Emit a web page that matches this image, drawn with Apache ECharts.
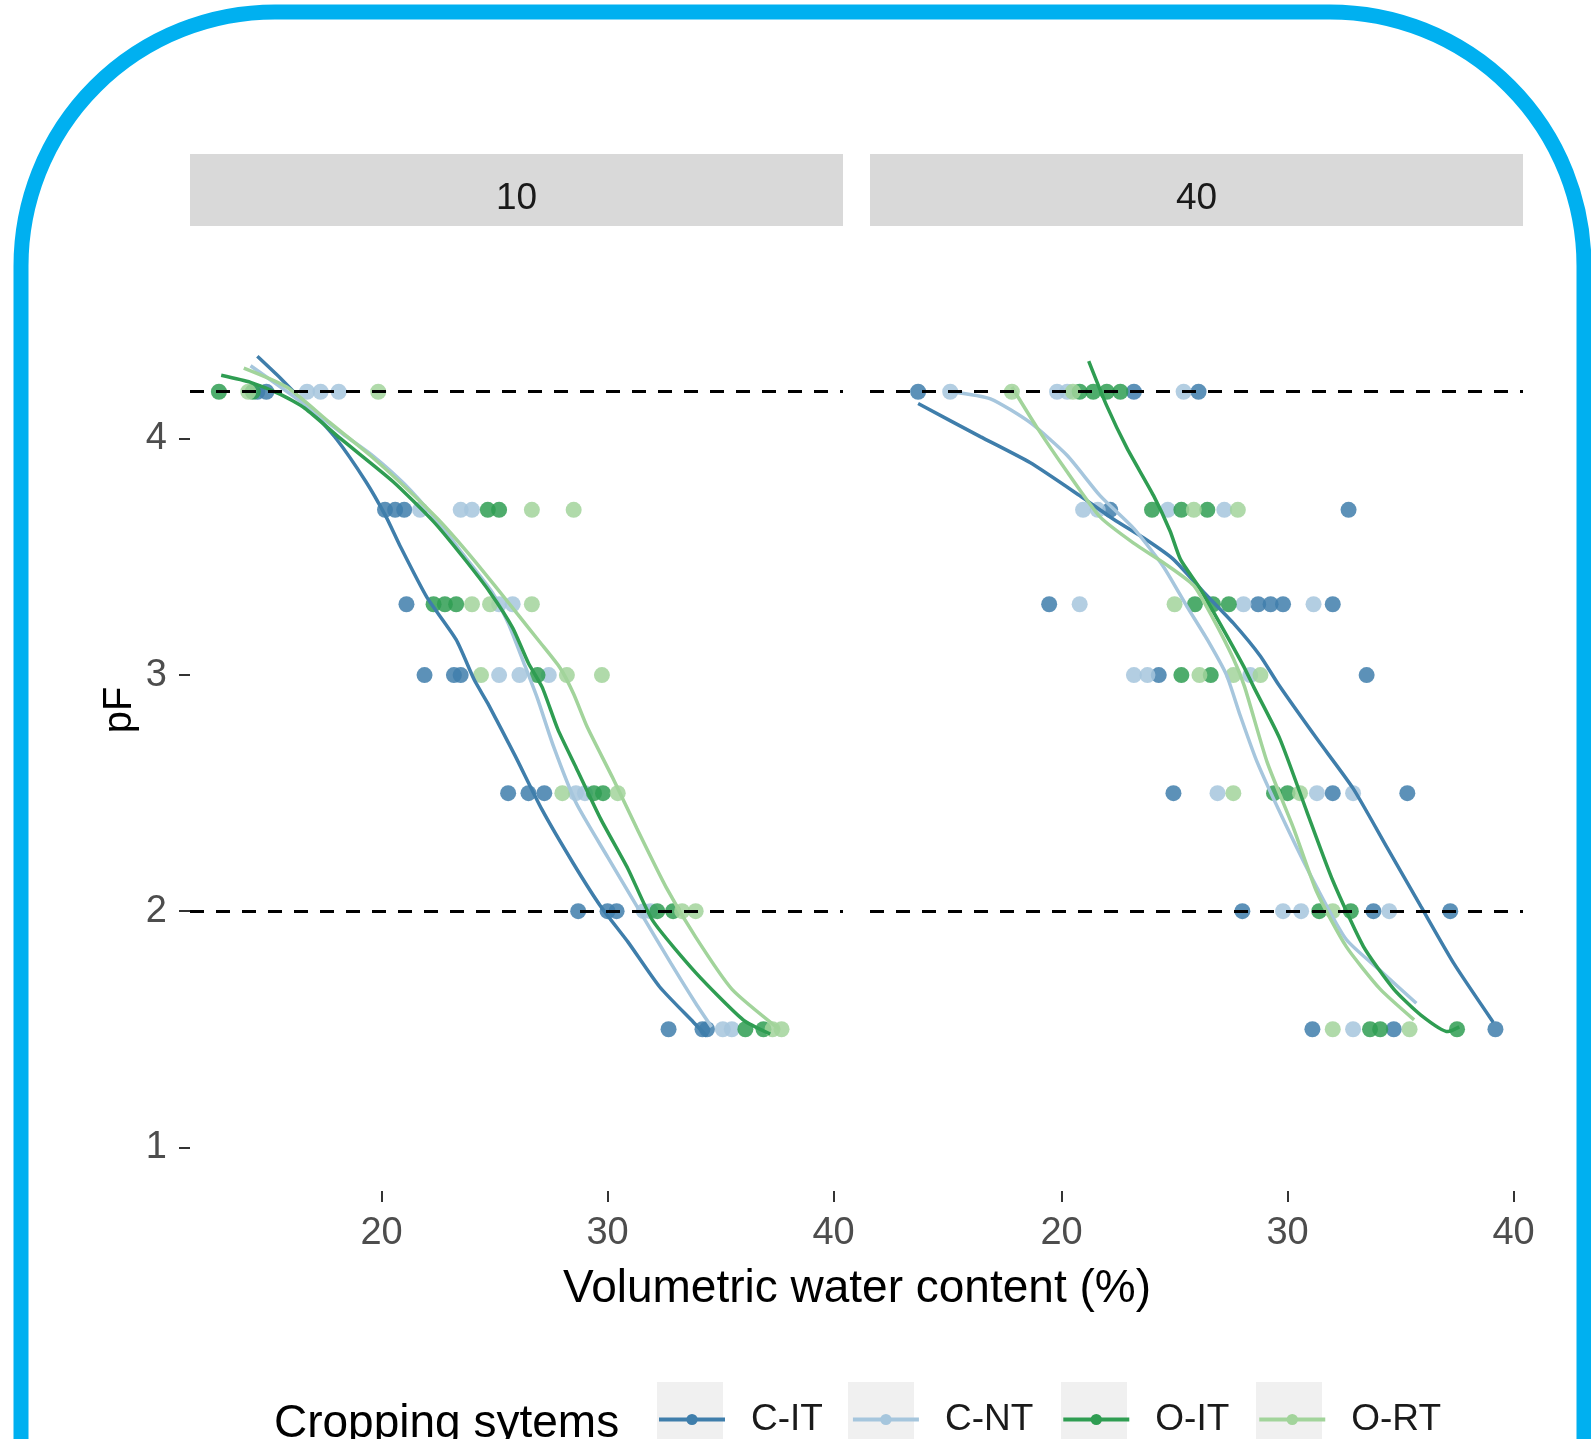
<!DOCTYPE html>
<html><head><meta charset="utf-8">
<script src="https://cdn.jsdelivr.net/npm/echarts@6/dist/echarts.min.js"></script>
<style>html,body{margin:0;padding:0;background:#fff}#c{width:1591px;height:1439px}</style>
</head><body><div id="c"></div>
<script>
// ---------- DATA ----------
const treatments = ['C-IT', 'C-NT', 'O-IT', 'O-RT'];
const depths = ['10', '40'];
const xTicks = [20, 30, 40];
const yTicks = [1, 2, 3, 4];
const refLines = [4.2, 2.0];
const xTitle = 'Volumetric water content (%)';
const yTitle = 'pF';
const legendTitle = 'Cropping sytems';

// observed points [theta, pF] — depth 10
const pts10_CIT = [[14.5,4.2],[14.9,4.2],[20.15,3.7],[20.6,3.7],[21.0,3.7],[21.1,3.3],[21.9,3.0],[23.2,3.0],[23.5,3.0],[25.6,2.5],[26.5,2.5],[27.2,2.5],[28.7,2.0],[30.0,2.0],[30.4,2.0],[32.7,1.5],[34.2,1.5],[34.4,1.5]];
const pts10_CNT = [[16.7,4.2],[17.3,4.2],[18.1,4.2],[21.7,3.7],[23.5,3.7],[24.0,3.7],[25.2,3.3],[25.8,3.3],[25.2,3.0],[26.1,3.0],[27.4,3.0],[28.6,2.5],[29.0,2.5],[31.6,2.0],[31.9,2.0],[35.1,1.5],[35.5,1.5]];
const pts10_OIT = [[12.8,4.2],[14.3,4.2],[24.7,3.7],[25.2,3.7],[22.3,3.3],[22.8,3.3],[23.3,3.3],[26.9,3.0],[29.4,2.5],[29.8,2.5],[32.2,2.0],[32.9,2.0],[36.1,1.5],[36.9,1.5]];
const pts10_ORT = [[14.1,4.2],[19.85,4.2],[26.65,3.7],[28.5,3.7],[24.0,3.3],[24.8,3.3],[26.65,3.3],[24.4,3.0],[28.2,3.0],[29.75,3.0],[28.0,2.5],[30.45,2.5],[33.3,2.0],[33.9,2.0],[37.3,1.5],[37.7,1.5]];
// observed points — depth 40
const pts40_CIT = [[13.65,4.2],[23.2,4.2],[26.06,4.2],[22.15,3.7],[32.7,3.7],[19.45,3.3],[28.7,3.3],[29.25,3.3],[29.8,3.3],[32.0,3.3],[24.3,3.0],[33.5,3.0],[24.95,2.5],[32.0,2.5],[35.3,2.5],[28.0,2.0],[33.8,2.0],[37.2,2.0],[31.1,1.5],[34.7,1.5],[39.2,1.5]];
const pts40_CNT = [[15.07,4.2],[19.8,4.2],[20.25,4.2],[25.4,4.2],[20.95,3.7],[21.6,3.7],[24.7,3.7],[27.2,3.7],[20.8,3.3],[28.05,3.3],[31.15,3.3],[23.2,3.0],[23.8,3.0],[28.35,3.0],[26.9,2.5],[31.3,2.5],[32.9,2.5],[29.8,2.0],[30.6,2.0],[34.5,2.0],[32.9,1.5]];
const pts40_OIT = [[20.8,4.2],[21.4,4.2],[22.0,4.2],[22.6,4.2],[24.0,3.7],[25.3,3.7],[26.45,3.7],[25.9,3.3],[26.7,3.3],[27.4,3.3],[25.3,3.0],[26.6,3.0],[29.4,2.5],[30.0,2.5],[31.4,2.0],[32.8,2.0],[33.65,1.5],[34.1,1.5],[37.5,1.5]];
const pts40_ORT = [[17.8,4.2],[20.5,4.2],[25.85,3.7],[27.8,3.7],[25.0,3.3],[26.1,3.0],[27.6,3.0],[28.8,3.0],[27.6,2.5],[30.55,2.5],[32.0,2.0],[32.0,1.5],[35.4,1.5]];

// fitted retention curves [theta, pF] — depth 10
const fit10_CIT = [[14.5,4.35],[15.6,4.25],[16.7,4.14],[18.0,4.0],[19.3,3.82],[20.2,3.67],[20.8,3.55],[22.0,3.33],[23.3,3.15],[24.1,2.98],[24.7,2.88],[25.9,2.66],[27.1,2.43],[28.5,2.2],[29.7,2.02],[30.9,1.87],[32.3,1.68],[33.8,1.53],[34.4,1.47]];
const fit10_CNT = [[14.2,4.31],[16.4,4.16],[18.3,4.02],[19.6,3.93],[21.0,3.81],[22.4,3.66],[23.7,3.5],[24.9,3.35],[25.6,3.22],[26.3,3.05],[26.9,2.9],[27.6,2.7],[28.6,2.46],[30.0,2.23],[31.3,2.02],[32.8,1.78],[33.9,1.61],[34.6,1.51]];
const fit10_OIT = [[12.9,4.27],[14.2,4.24],[15.5,4.19],[16.6,4.13],[18.2,4.0],[20.5,3.82],[22.3,3.65],[23.6,3.5],[24.8,3.35],[25.8,3.2],[26.5,3.05],[27.1,2.95],[27.8,2.77],[28.6,2.61],[29.7,2.39],[30.9,2.18],[32.0,1.96],[33.9,1.74],[36.0,1.54],[37.2,1.48]];
const fit10_ORT = [[13.9,4.3],[15.8,4.22],[17.7,4.07],[19.5,3.93],[21.0,3.8],[22.5,3.66],[23.8,3.52],[25.0,3.38],[26.0,3.26],[27.0,3.14],[27.9,3.03],[28.5,2.92],[29.1,2.78],[30.2,2.57],[31.3,2.35],[32.6,2.1],[33.9,1.89],[35.5,1.67],[37.6,1.5]];
// fitted retention curves — depth 40
const fit40_CIT = [[13.65,4.15],[16.4,4.01],[18.6,3.9],[20.8,3.76],[22.3,3.66],[23.8,3.57],[24.95,3.49],[26.3,3.35],[27.6,3.22],[28.8,3.08],[29.6,2.96],[31.3,2.73],[32.9,2.52],[34.4,2.27],[35.9,2.02],[37.35,1.78],[39.1,1.53]];
const fit40_CNT = [[15.1,4.2],[16.85,4.17],[18.6,4.07],[20.25,3.93],[21.7,3.76],[23.2,3.62],[24.5,3.46],[25.55,3.29],[26.45,3.15],[27.3,3.0],[27.9,2.83],[28.66,2.63],[30.0,2.35],[31.3,2.1],[32.6,1.88],[34.2,1.74],[35.7,1.61]];
const fit40_OIT = [[21.2,4.33],[22.0,4.14],[22.9,3.96],[24.07,3.76],[24.8,3.61],[25.26,3.49],[26.1,3.37],[27.0,3.22],[28.04,3.04],[28.5,2.95],[29.66,2.73],[30.86,2.42],[32.0,2.13],[33.36,1.85],[34.7,1.67],[35.9,1.56],[37.1,1.49],[37.6,1.51]];
const fit40_ORT = [[17.8,4.22],[18.9,4.05],[20.25,3.86],[21.7,3.67],[23.17,3.56],[24.6,3.47],[25.84,3.38],[26.7,3.24],[27.6,3.07],[28.1,2.95],[29.1,2.63],[30.27,2.35],[31.3,2.08],[32.6,1.85],[34.1,1.67],[35.6,1.54]];

const points = [[pts10_CIT, pts10_CNT, pts10_OIT, pts10_ORT], [pts40_CIT, pts40_CNT, pts40_OIT, pts40_ORT]];
const fits = [[fit10_CIT, fit10_CNT, fit10_OIT, fit10_ORT], [fit40_CIT, fit40_CNT, fit40_OIT, fit40_ORT]];

// ---------- STYLE ----------
const colors = ['#3f7eab', '#a6c6dd', '#2f9d52', '#a2d49b'];

function hasFont(name) {
  const c = document.createElement('canvas').getContext('2d');
  const t = 'Volumetric water content (%) 0123456789';
  c.font = '50px monospace'; const w1 = c.measureText(t).width;
  c.font = '50px "' + name + '", monospace'; const w2 = c.measureText(t).width;
  return Math.abs(w1 - w2) > 1;
}
const narrow = hasFont('Liberation Sans Narrow');
const FONT = narrow ? '"Liberation Sans Narrow", "Liberation Sans", Arial, sans-serif' : '"Liberation Sans", Arial, sans-serif';
const S = narrow
  ? {tick: 46, strip: 46, xTitle: 57, yTitle: 48, legTitle: 56, legLabel: 47}
  : {tick: 38, strip: 37, xTitle: 46, yTitle: 40, legTitle: 46, legLabel: 37};

const panelLeft = [190, 870], panelW = 653, panelTop = 230, panelH = 961;
const xMin = 11.52, xMax = 40.42, yMin = 0.815, yMax = 4.885;

const grids = [], xAxes = [], yAxes = [], series = [];
depths.forEach((d, i) => {
  grids.push({left: panelLeft[i], top: panelTop, width: panelW, height: panelH, containLabel: false, outerBoundsMode: 'none', show: false});
  xAxes.push({
    type: 'value', gridIndex: i, min: xMin, max: xMax,
    axisLine: {show: false}, splitLine: {show: false},
    axisTick: {show: true, customValues: xTicks, length: 11, lineStyle: {color: '#333', width: 2}},
    axisLabel: {customValues: xTicks, color: '#4d4d4d', fontSize: S.tick, fontFamily: FONT, margin: 24}
  });
  yAxes.push({
    type: 'value', gridIndex: i, min: yMin, max: yMax,
    axisLine: {show: false}, splitLine: {show: false},
    axisTick: {show: i === 0, customValues: yTicks, length: 11, lineStyle: {color: '#333', width: 2}},
    axisLabel: {show: i === 0, customValues: yTicks, color: '#4d4d4d', fontSize: S.tick, fontFamily: FONT, margin: 23}
  });
});

// line series first (legend icon from them)
depths.forEach((d, i) => {
  treatments.forEach((t, k) => {
    series.push({
      type: 'line', name: t, xAxisIndex: i, yAxisIndex: i, data: fits[i][k],
      showSymbol: false, symbol: 'circle', smooth: 0.2, silent: true,
      lineStyle: {color: colors[k], width: 3.5}, itemStyle: {color: colors[k]}, z: 3
    });
  });
});
depths.forEach((d, i) => {
  treatments.forEach((t, k) => {
    series.push({
      type: 'scatter', name: t, xAxisIndex: i, yAxisIndex: i, data: points[i][k],
      symbolSize: 16, silent: true,
      itemStyle: {color: colors[k], opacity: 0.85}, z: 2
    });
  });
  series.push({
    type: 'line', xAxisIndex: i, yAxisIndex: i, data: [], silent: true, z: 5,
    markLine: {
      symbol: 'none', silent: true, label: {show: false}, animation: false,
      lineStyle: {color: '#000', type: [14, 12], width: 3},
      data: refLines.map(v => ({yAxis: v}))
    }
  });
});

const graphic = [
  // outer rounded frame
  {type: 'rect', z: 100, silent: true, shape: {x: 21, y: 12, width: 1563, height: 1700, r: [254, 254, 0, 0]},
   style: {fill: 'none', stroke: '#00b0f0', lineWidth: 15}},
];
depths.forEach((d, i) => {
  graphic.push({type: 'rect', z: 1, silent: true, shape: {x: panelLeft[i], y: 154, width: panelW, height: 72}, style: {fill: '#d9d9d9'}});
  graphic.push({type: 'text', z: 2, silent: true, x: panelLeft[i] + panelW / 2, y: 199,
    style: {text: d, fill: '#1a1a1a', font: S.strip + 'px ' + FONT, align: 'center', verticalAlign: 'middle'}});
});
graphic.push({type: 'text', silent: true, x: 857, y: 1289,
  style: {text: xTitle, fill: '#000', font: S.xTitle + 'px ' + FONT, align: 'center', verticalAlign: 'middle'}});
graphic.push({type: 'text', silent: true, x: 120, y: 710, rotation: Math.PI / 2,
  style: {text: yTitle, fill: '#000', font: S.yTitle + 'px ' + FONT, align: 'center', verticalAlign: 'middle'}});
graphic.push({type: 'text', silent: true, x: 274, y: 1424,
  style: {text: legendTitle, fill: '#000', font: S.legTitle + 'px ' + FONT, align: 'left', verticalAlign: 'middle'}});
[657, 848, 1061, 1256].forEach(x => {
  graphic.push({type: 'rect', z: 0, silent: true, shape: {x: x, y: 1382, width: 66, height: 80}, style: {fill: '#f0f0f0'}});
});

const chart = echarts.init(document.getElementById('c'), null, {renderer: 'canvas'});
chart.setOption({
  animation: false,
  backgroundColor: '#fff',
  textStyle: {fontFamily: FONT},
  grid: grids, xAxis: xAxes, yAxis: yAxes, series: series,
  legend: {
    data: treatments, left: 657, top: 1401, orient: 'horizontal', selectedMode: false,
    itemWidth: 66, itemHeight: 14, itemGap: 28, padding: 0,
    lineStyle: {width: 4},
    textStyle: {fontFamily: FONT, fontSize: S.legLabel, color: '#1a1a1a', padding: [0, 0, 0, 21]}
  },
  graphic: graphic
});
</script></body></html>
